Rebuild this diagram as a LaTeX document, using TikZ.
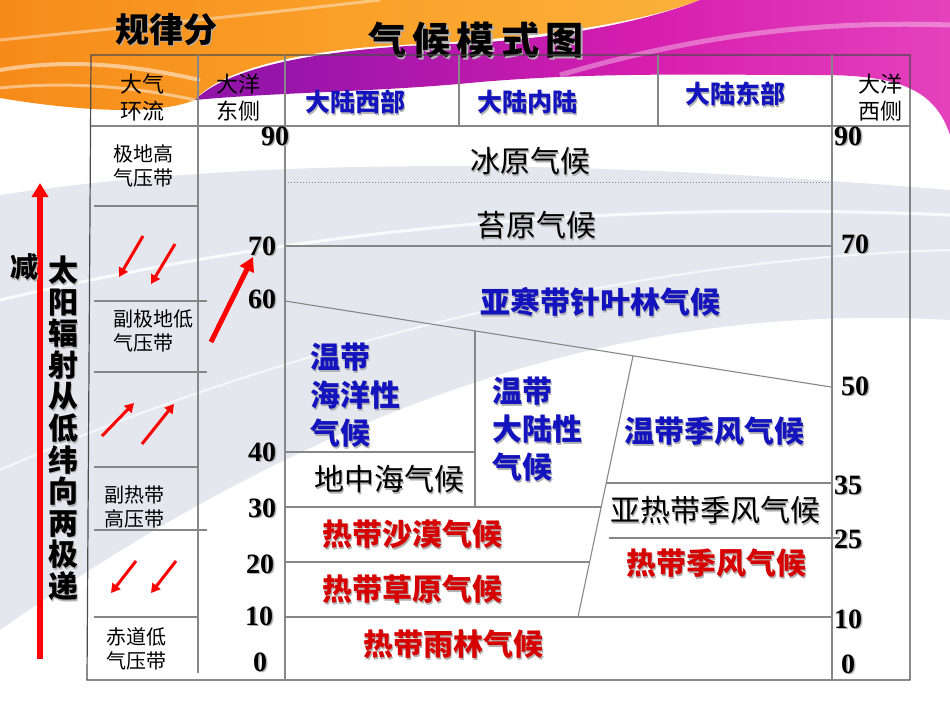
\documentclass[tikz,border=0pt]{standalone}
\usepackage{fontspec}
\setmainfont{Liberation Serif}
\newfontfamily\cjk{Noto Sans CJK SC}
\usetikzlibrary{arrows.meta}
\definecolor{tblue}{RGB}{20,20,190}
\definecolor{tred}{RGB}{215,0,0}
\definecolor{gridc}{RGB}{135,135,135}
\definecolor{oA}{RGB}{235,70,25}
\definecolor{oB}{RGB}{245,130,20}
\definecolor{oC}{RGB}{250,160,40}
\definecolor{oD}{RGB}{252,195,80}
\definecolor{pA}{RGB}{120,20,160}
\definecolor{pB}{RGB}{150,20,170}
\definecolor{pC}{RGB}{215,30,175}
\definecolor{pD}{RGB}{232,75,192}
\definecolor{pE}{RGB}{240,140,215}
\definecolor{swoosh}{RGB}{222,226,234}
\pgfdeclarehorizontalshading{orangeband}{100bp}{color(0bp)=(oA); color(15bp)=(oB); color(50bp)=(oC); color(100bp)=(oD)}
\pgfdeclarehorizontalshading{pinkband}{100bp}{color(0bp)=(pA); color(30bp)=(pB); color(55bp)=(pC); color(80bp)=(pD); color(100bp)=(pE)}
\newcommand\shd[1]{\leavevmode\rlap{\kern1.5pt\raisebox{-1.5pt}{\textcolor{black!30}{#1}}}#1}
\begin{document}
\begin{tikzpicture}[x=1pt,y=-1pt,
  tline/.style={draw=gridc, line width=1.1pt},
  border/.style={draw=black!70, line width=1.2pt},
  num/.style={font=\bfseries\fontsize{28}{28}\selectfont, inner sep=0},
  rnum/.style={font=\bfseries\fontsize{28}{28}\selectfont, inner sep=0},
  clim/.style={font=\cjk\fontsize{30}{38}\selectfont, inner sep=0},
  bclim/.style={font=\cjk\bfseries\fontsize{30}{38}\selectfont, text=tblue, inner sep=0, align=left},
  rclim/.style={font=\cjk\bfseries\fontsize{30}{38}\selectfont, text=tred, inner sep=0},
  belt/.style={font=\cjk\fontsize{20}{24}\selectfont, align=left, inner sep=0},
  head/.style={font=\cjk\fontsize{22}{27}\selectfont, align=center, inner sep=0},
  bhead/.style={font=\cjk\bfseries\fontsize{25}{25}\selectfont, text=tblue, inner sep=0},
  arrs/.style={draw=red, line width=3pt, -{Triangle[length=9pt,width=10pt]}},
  arrb/.style={draw=red, line width=5pt, -{Triangle[length=14pt,width=15pt]}}
]
\useasboundingbox (0,0) rectangle (950,713);
% ---------- background ----------
\fill[white] (0,0) rectangle (950,713);
\fill[swoosh, opacity=0.8] (0,195) .. controls (300,150) and (650,165) .. (950,190)
   -- (950,320) .. controls (600,300) and (300,420) .. (0,630) -- cycle;
\draw[white, line width=3pt, opacity=0.8] (0,300) .. controls (300,230) and (600,200) .. (950,215);
\draw[white, line width=2pt, opacity=0.7] (0,470) .. controls (250,360) and (600,260) .. (950,250);
\shade[shading=orangeband] (0,0) -- (700,0) .. controls (620,30) and (500,40) .. (400,45)
   .. controls (300,50) and (220,70) .. (195,100)
   .. controls (150,118) and (60,108) .. (0,98) -- cycle;
\shade[shading=pinkband] (195,100) .. controls (230,65) and (330,48) .. (450,44)
   .. controls (560,40) and (650,20) .. (700,0) -- (950,0) -- (950,135)
   .. controls (935,90) and (900,75) .. (820,75)
   .. controls (700,75) and (600,72) .. (480,82)
   .. controls (380,92) and (280,92) .. (195,100) -- cycle;
\draw[white, line width=4pt, opacity=0.5] (0,70) .. controls (60,60) and (120,62) .. (200,80);
\draw[white, line width=3pt, opacity=0.45] (0,88) .. controls (80,80) and (150,90) .. (195,100);
\draw[white, line width=5pt, opacity=0.35] (560,75) .. controls (680,40) and (800,20) .. (950,25);
\draw[white, line width=3pt, opacity=0.4] (0,40) .. controls (100,30) and (250,15) .. (380,0);
% ---------- titles ----------
\node[font=\cjk\bfseries\fontsize{34}{34}\selectfont, inner sep=0] (t1) at (166,30) {\shd{规律分}};
\node[font=\cjk\bfseries\fontsize{38}{38}\selectfont, inner sep=0] (t2) at (476,41) {\shd{气\,候\,模\,式\,图}};
% ---------- table frame ----------
\draw[border] (91,55) -- (910,55) -- (910,680) -- (87,680) -- cycle;
\draw[tline] (91,126) -- (910,126);
\draw[tline] (198,55) -- (198,673);
\draw[tline] (285,55) -- (285,680);
\draw[tline] (459,55) -- (459,126);
\draw[tline] (658,55) -- (658,126);
\draw[tline] (832,55) -- (832,680);
% left column rows
\draw[tline] (94,206) -- (198,206);
\draw[tline] (94,301) -- (207,301);
\draw[tline] (94,372) -- (207,372);
\draw[tline] (94,467) -- (198,467);
\draw[tline] (94,530) -- (207,530);
\draw[tline] (94,617) -- (198,617);
% main area
\draw[draw=gridc, line width=1pt, dotted] (285,182) -- (831,182);
\draw[tline] (285,246) -- (831,246);
\coordinate (sA) at (285,301);
\coordinate (sB) at (831,387);
\draw[tline] (sA) -- (sB);
\coordinate (vT) at (475,331);
\coordinate (vB) at (475,507);
\draw[tline] (vT) -- (vB);
\coordinate (kT) at (633,356);
\coordinate (kB) at (578,617);
\draw[tline] (kT) -- (kB);
\draw[tline] (285,452) -- (475,452);
\draw[tline] (285,507) -- (601,507);
\draw[tline] (285,562) -- (589,562);
\draw[tline] (285,617) -- (831,617);
\draw[tline] (606,483) -- (831,483);
\draw[tline] (609,538) -- (840,538);
% ---------- header ----------
\node[head] (h1) at (142,98) {大气\\环流};
\node[head] (h2) at (238,98) {大洋\\东侧};
\node[bhead] (h3) at (355,103) {\shd{大陆西部}};
\node[bhead] (h4) at (527,103) {\shd{大陆内陆}};
\node[bhead] (h5) at (735,95) {\shd{大陆东部}};
\node[head] (h6) at (880,98) {大洋\\西侧};
% ---------- pressure belts ----------
\node[belt] (b1) at (143,166) {极地高\\气压带};
\node[belt, anchor=west] (b2) at (113,331) {副极地低\\气压带};
\node[belt] (b3) at (134,507) {副热带\\高压带};
\node[belt] (b4) at (136,649) {赤道低\\气压带};
% ---------- latitude numbers ----------
\node[num] (l90) at (275,137) {\shd{90}};
\node[num] (l70) at (262,247) {\shd{70}};
\node[num] (l60) at (262,300) {\shd{60}};
\node[num] (l40) at (262,453) {\shd{40}};
\node[num] (l30) at (262,509) {\shd{30}};
\node[num] (l20) at (260,565) {\shd{20}};
\node[num] (l10) at (259,617) {\shd{10}};
\node[num] (l0) at (260,663) {\shd{0}};
\node[num] (r90) at (848,137) {\shd{90}};
\node[num] (r70) at (855,245) {\shd{70}};
\node[num] (r50) at (855,387) {\shd{50}};
\node[rnum] (r35) at (848,486) {\shd{35}};
\node[rnum] (r25) at (848,540) {\shd{25}};
\node[rnum] (r10) at (848,620) {\shd{10}};
\node[rnum] (r0) at (848,665) {\shd{0}};
% ---------- climate labels ----------
\node[clim] (c1) at (530,162) {\shd{冰原气候}};
\node[clim] (c2) at (536,226) {\shd{苔原气候}};
\node[bclim] (c3) at (600,303) {\shd{亚寒带针叶林气候}};
\node[bclim, anchor=west] (c4) at (310,396) {\shd{温带}\\\shd{海洋性}\\\shd{气候}};
\node[bclim, anchor=west] (c5) at (492,430) {\shd{温带}\\\shd{大陆性}\\\shd{气候}};
\node[bclim] (c6) at (714,432) {\shd{温带季风气候}};
\node[clim] (c7) at (389,480) {\shd{地中海气候}};
\node[clim] (c8) at (715,511) {\shd{亚热带季风气候}};
\node[rclim] (c9) at (412,535) {\shd{热带沙漠气候}};
\node[rclim] (c10) at (412,590) {\shd{热带草原气候}};
\node[rclim] (c11) at (716,564) {\shd{热带季风气候}};
\node[rclim] (c12) at (453,645) {\shd{热带雨林气候}};
% ---------- left side: solar radiation ----------
\coordinate (vA) at (40,659);
\coordinate (vZ) at (40,183);
\draw[draw=red, line width=6pt, -{Triangle[length=14pt,width=16pt]}] (vA) -- (vZ);
\node[font=\cjk\bfseries\fontsize{28}{28}\selectfont, inner sep=0] (jian) at (24,268) {\shd{减}};
\node[font=\cjk\bfseries\fontsize{30}{31.6}\selectfont, align=center, inner sep=0] (sun) at (63,429)
  {\shd{太}\\\shd{阳}\\\shd{辐}\\\shd{射}\\\shd{从}\\\shd{低}\\\shd{纬}\\\shd{向}\\\shd{两}\\\shd{极}\\\shd{递}};
% ---------- wind arrows ----------
\coordinate (w1a) at (143,236); \coordinate (w1b) at (119,277);
\coordinate (w2a) at (175,244); \coordinate (w2b) at (151,284);
\coordinate (w3a) at (102,436); \coordinate (w3b) at (134,403);
\coordinate (w4a) at (142,444); \coordinate (w4b) at (174,404);
\coordinate (w5a) at (136,561); \coordinate (w5b) at (111,593);
\coordinate (w6a) at (176,561); \coordinate (w6b) at (151,593);
\draw[arrs] (w1a) -- (w1b);
\draw[arrs] (w2a) -- (w2b);
\draw[arrs] (w3a) -- (w3b);
\draw[arrs] (w4a) -- (w4b);
\draw[arrs] (w5a) -- (w5b);
\draw[arrs] (w6a) -- (w6b);
\coordinate (gA) at (211,342); \coordinate (gB) at (253,257);
\draw[arrb] (gA) -- (gB);
\end{tikzpicture}
\end{document}
